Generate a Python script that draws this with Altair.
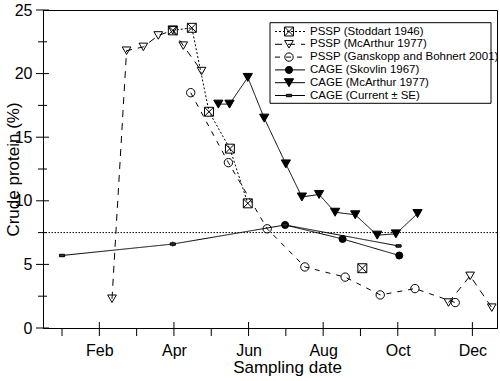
import altair as alt
import pandas as pd

# Month axis is a decimal month number: 1 = 1 Jan, 2 = 1 Feb, ... 12 = 1 Dec
series_names = [
    "PSSP (Stoddart 1946)",
    "PSSP (McArthur 1977)",
    "PSSP (Ganskopp and Bohnert 2001)",
    "CAGE (Skovlin 1967)",
    "CAGE (McArthur 1977)",
    "CAGE (Current \u00b1 SE)",
]

stod_month = [3.97, 4.48, 4.94, 5.50, 5.98, 9.05]
stod_cp = [23.4, 23.6, 17.0, 14.1, 9.8, 4.7]
stod_seg = [0, 0, 0, 0, 0, 1]

mca_pssp_month = [2.34, 2.73, 3.18, 3.58, 3.97, 4.25, 4.74, 11.36, 11.94, 12.52]
mca_pssp_cp = [2.3, 21.8, 22.1, 23.0, 23.4, 22.2, 20.2, 2.0, 4.1, 1.6]
mca_pssp_seg = [0, 0, 0, 0, 0, 0, 0, 1, 1, 1]

gans_month = [4.45, 5.46, 6.50, 7.51, 8.59, 9.53, 10.46, 11.54]
gans_cp = [18.5, 13.0, 7.8, 4.8, 4.0, 2.6, 3.1, 2.0]

skov_month = [6.98, 8.52, 10.04]
skov_cp = [8.1, 7.0, 5.7]

mca_cage_month = [5.19, 5.49, 5.98, 6.42, 7.00, 7.43, 7.89, 8.32, 8.86, 9.45, 9.95, 10.53]
mca_cage_cp = [17.6, 17.6, 19.7, 16.5, 12.9, 10.3, 10.5, 9.1, 8.9, 7.3, 7.4, 9.0]

cur_month = [1.00, 3.97, 6.98, 10.02]
cur_cp = [5.7, 6.6, 8.1, 6.45]
cur_se = [0.10, 0.20, 0.12, 0.12]

threshold_cp = 7.5

month_names = ["", "Jan", "Feb", "Mar", "Apr", "May", "Jun",
               "Jul", "Aug", "Sep", "Oct", "Nov", "Dec"]
x_major = [2, 4, 6, 8, 10, 12]
x_minor = [1, 3, 5, 7, 9, 11]
y_major = [0, 5, 10, 15, 20, 25]
y_minor = [2.5, 7.5, 12.5, 17.5, 22.5]

# ---- styles per series ----
box_x = "M-1,-1H1V1H-1Z M-1,-1L1,1 M-1,1L1,-1"
small_bar = "M-1.3,-0.6H1.3V0.6H-1.3Z"
dashes = [[2, 2], [7, 6], [5, 6], [1, 0], [1, 0], [1, 0]]
shapes = [box_x, "triangle-down", "circle", "circle", "triangle-down", small_bar]
fills = ["transparent", "transparent", "transparent", "black", "black", "#333333"]
sizes = [80, 75, 70, 50, 85, 16]


def frame(name, month, cp, seg=None):
    seg = seg if seg is not None else [0] * len(month)
    return pd.DataFrame({
        "series": name, "month": month, "cp": cp,
        "key": [f"{name}-{s}" for s in seg],
    })


df = pd.concat([
    frame(series_names[0], stod_month, stod_cp, stod_seg),
    frame(series_names[1], mca_pssp_month, mca_pssp_cp, mca_pssp_seg),
    frame(series_names[2], gans_month, gans_cp),
    frame(series_names[3], skov_month, skov_cp),
    frame(series_names[4], mca_cage_month, mca_cage_cp),
    frame(series_names[5], cur_month, cur_cp),
], ignore_index=True)

se_df = pd.DataFrame({"month": cur_month, "cp": cur_cp, "se": cur_se})

font = "Liberation Sans"
W, H = 454, 318

xscale = alt.Scale(domain=[0.49, 12.66], nice=False, zero=False)
yscale = alt.Scale(domain=[0, 25], nice=False)

xaxis = alt.Axis(
    values=x_major, ticks=False, tickSize=0, grid=False,
    labelExpr=f"{month_names}[datum.value]",
    labelFontSize=16, labelPadding=14, labelColor="black",
    title="Sampling date", titleFontSize=17, titleFontWeight="normal",
    titleX=244, titleY=44, titleBaseline="alphabetic", titleColor="black",
    domainColor="black",
)
yaxis = alt.Axis(
    values=y_major, ticks=False, tickSize=0, grid=False, format="d",
    labelFontSize=16, labelPadding=11, labelColor="black",
    title="Crude protein (%)", titleFontSize=17, titleFontWeight="normal",
    titleX=-25, titleBaseline="alphabetic", titleColor="black",
    domainColor="black",
)

dash_enc = alt.StrokeDash("series:N", scale=alt.Scale(domain=series_names, range=dashes), legend=None)
shape_enc = alt.Shape("series:N", scale=alt.Scale(domain=series_names, range=shapes), legend=None)
fill_enc = alt.Fill("series:N", scale=alt.Scale(domain=series_names, range=fills), legend=None)
size_enc = alt.Size("series:N", scale=alt.Scale(type="ordinal", domain=series_names, range=sizes), legend=None)

base = alt.Chart(df).encode(
    x=alt.X("month:Q", scale=xscale, axis=xaxis),
    y=alt.Y("cp:Q", scale=yscale, axis=yaxis),
)

lines = base.mark_line(color="black", strokeWidth=1).encode(
    strokeDash=dash_enc, detail="key:N", order="month:Q"
)

points = base.mark_point(stroke="black", strokeWidth=1, opacity=1).encode(
    shape=shape_enc, fill=fill_enc, size=size_enc
)

errbars = alt.Chart(se_df).transform_calculate(
    lo="datum.cp - datum.se", hi="datum.cp + datum.se"
).mark_rule(color="black", strokeWidth=1).encode(
    x=alt.X("month:Q", scale=xscale),
    y=alt.Y("lo:Q", scale=yscale),
    y2="hi:Q",
)

ref_line = alt.Chart(pd.DataFrame({"cp": [threshold_cp]})).mark_rule(
    color="black", strokeWidth=1, strokeDash=[1.5, 1.5]
).encode(y=alt.Y("cp:Q", scale=yscale))

# axis tick marks crossing the axis lines
xt = pd.DataFrame({"m": x_major + x_minor, "major": [1] * len(x_major) + [0] * len(x_minor)})
x_ticks_major = alt.Chart(xt).transform_filter("datum.major == 1").mark_rule(
    color="black", strokeWidth=1
).encode(x=alt.X("m:Q", scale=xscale), y=alt.value(H - 6), y2=alt.value(H + 8))
x_ticks_minor = alt.Chart(xt).transform_filter("datum.major == 0").mark_rule(
    color="black", strokeWidth=1
).encode(x=alt.X("m:Q", scale=xscale), y=alt.value(H), y2=alt.value(H + 8))

yt = pd.DataFrame({"v": y_major + y_minor, "major": [1] * len(y_major) + [0] * len(y_minor)})
y_ticks_major = alt.Chart(yt).transform_filter("datum.major == 1").mark_rule(
    color="black", strokeWidth=1
).encode(y=alt.Y("v:Q", scale=yscale), x=alt.value(-7), x2=alt.value(6))
y_ticks_minor = alt.Chart(yt).transform_filter("datum.major == 0").mark_rule(
    color="black", strokeWidth=1
).encode(y=alt.Y("v:Q", scale=yscale), x=alt.value(-5), x2=alt.value(4))

# legend box drawn inside the plot
leg = pd.DataFrame({
    "series": series_names,
    "ly": [21.5 + 12.8 * i for i in range(len(series_names))],
})
leg_box = alt.Chart(pd.DataFrame({"a": [0]})).mark_rect(
    fill="white", stroke="black", strokeWidth=1
).encode(x=alt.value(227), x2=alt.value(448), y=alt.value(12.7), y2=alt.value(93.3))
leg_lines = alt.Chart(leg).mark_rule(color="black", strokeWidth=1).encode(
    x=alt.value(232), x2=alt.value(262),
    y=alt.Y("ly:Q", scale=None, axis=None),
    strokeDash=dash_enc,
)
leg_marks = alt.Chart(leg).mark_point(stroke="black", strokeWidth=1, opacity=1).encode(
    x=alt.value(246),
    y=alt.Y("ly:Q", scale=None, axis=None),
    shape=shape_enc, fill=fill_enc, size=size_enc,
)
leg_text = alt.Chart(leg).mark_text(
    align="left", baseline="middle", fontSize=11.5, font=font, color="black"
).encode(
    x=alt.value(267),
    y=alt.Y("ly:Q", scale=None, axis=None),
    text="series:N",
)

chart = alt.layer(
    ref_line, lines, errbars, points,
    x_ticks_major, x_ticks_minor, y_ticks_major, y_ticks_minor,
    leg_box, leg_lines, leg_marks, leg_text,
).properties(
    width=W, height=H,
    autosize=alt.AutoSizeParams(type="none"),
    padding={"left": 43, "top": 10, "right": 3, "bottom": 53},
).configure(
    font=font, background="white"
).configure_view(
    stroke="black", strokeWidth=1
)

chart.save("out.html", embed_options={"renderer": "svg", "actions": False})
